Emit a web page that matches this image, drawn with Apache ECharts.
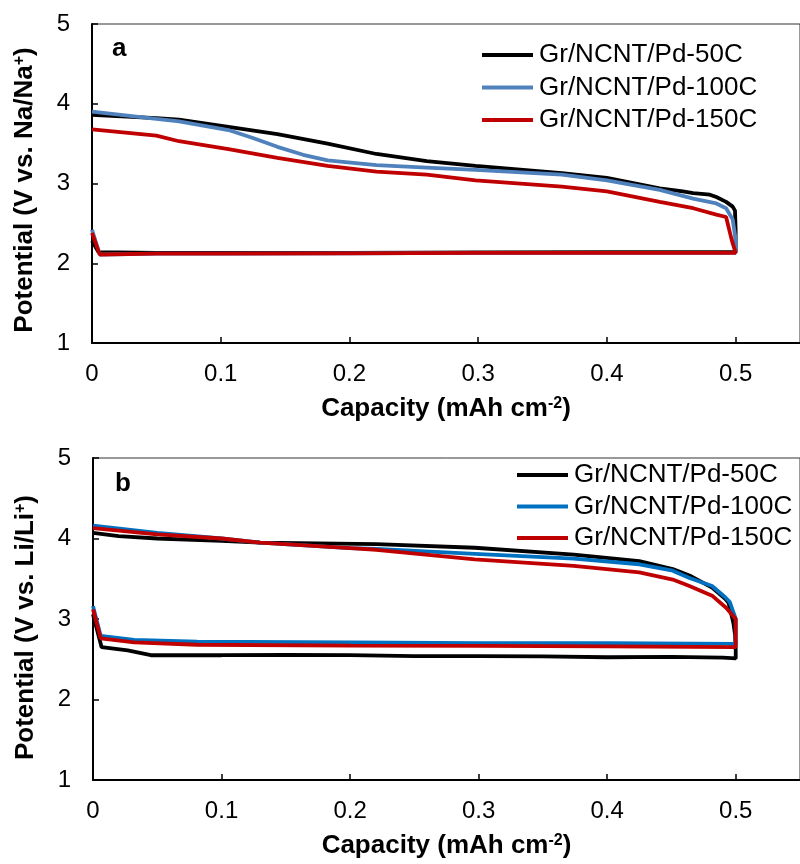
<!DOCTYPE html>
<html>
<head>
<meta charset="utf-8">
<script src="https://cdn.jsdelivr.net/npm/echarts@6/dist/echarts.min.js"></script>
<style>
html,body{margin:0;padding:0;background:#fff;}
#a,#b{width:800px;height:432px;}
</style>
</head>
<body>
<div id="a"></div>
<div id="b"></div>
<script>
// ---------- DATA ----------
const seriesNames = ['Gr/NCNT/Pd-50C', 'Gr/NCNT/Pd-100C', 'Gr/NCNT/Pd-150C'];
const xTicks = [0, 0.1, 0.2, 0.3, 0.4, 0.5];
const yTicks = [1, 2, 3, 4, 5];

// Panel a (Na) : [capacity, potential] — discharge then charge (back to 0)
const na50 = [[0,2.28],[0.005,2.14],[0.05,2.13],[0.1,2.13],[0.2,2.13],[0.3,2.135],[0.4,2.14],[0.5,2.14],
  [0.5,2.40],[0.4995,2.66],[0.4977,2.71],[0.4926,2.77],[0.485,2.83],[0.48,2.86],[0.467,2.88],[0.459,2.90],[0.441,2.94],
  [0.40,3.07],[0.365,3.13],[0.298,3.22],[0.26,3.28],[0.221,3.37],[0.183,3.50],[0.144,3.62],
  [0.106,3.71],[0.0676,3.80],[0.05,3.82],[0,3.86]];
const na100 = [[0,2.42],[0.006,2.11],[0.05,2.12],[0.1,2.12],[0.2,2.125],[0.3,2.13],[0.4,2.13],[0.5,2.13],
  [0.5,2.30],[0.4977,2.55],[0.4926,2.69],[0.485,2.75],[0.467,2.81],[0.441,2.92],[0.40,3.04],[0.365,3.11],
  [0.298,3.17],[0.26,3.20],[0.221,3.23],[0.183,3.29],[0.164,3.36],[0.144,3.46],[0.125,3.57],
  [0.106,3.67],[0.0676,3.78],[0.05,3.81],[0,3.90]];
const na150 = [[0,2.38],[0.006,2.11],[0.05,2.12],[0.1,2.12],[0.2,2.125],[0.3,2.13],[0.4,2.13],[0.5,2.13],
  [0.5,2.14],[0.497,2.29],[0.4926,2.58],[0.485,2.61],[0.467,2.69],[0.441,2.77],[0.40,2.90],[0.365,2.96],
  [0.298,3.04],[0.26,3.11],[0.221,3.15],[0.183,3.22],[0.144,3.32],[0.106,3.43],[0.0676,3.53],[0.05,3.60],[0,3.68]];

// Panel b (Li)
const li50 = [[0,3.06],[0.0067,2.65],[0.027,2.61],[0.045,2.55],[0.1,2.55],[0.15,2.555],[0.2,2.55],[0.25,2.54],
  [0.3,2.54],[0.35,2.535],[0.4,2.525],[0.45,2.53],[0.49,2.52],[0.5,2.51],
  [0.5,2.60],[0.4995,2.80],[0.4982,2.95],[0.4944,3.20],[0.4918,3.25],[0.4816,3.39],[0.464,3.54],[0.451,3.62],
  [0.425,3.72],[0.374,3.80],[0.297,3.885],[0.2204,3.93],[0.13,3.95],[0.1,3.97],[0.05,4.00],[0.02,4.03],[0,4.07]];
const li100 = [[0,3.16],[0.006,2.79],[0.032,2.74],[0.081,2.72],[0.2,2.71],[0.3,2.70],[0.4,2.70],[0.5,2.69],
  [0.5,3.00],[0.4954,3.21],[0.4918,3.27],[0.4816,3.41],[0.464,3.51],[0.451,3.60],[0.425,3.68],[0.374,3.75],
  [0.297,3.81],[0.2204,3.87],[0.2,3.88],[0.13,3.95],[0.1,4.00],[0.05,4.07],[0,4.16]];
const li150 = [[0,3.12],[0.006,2.76],[0.032,2.71],[0.081,2.68],[0.2,2.67],[0.3,2.665],[0.4,2.66],[0.5,2.65],
  [0.5,3.00],[0.4925,3.14],[0.4816,3.29],[0.464,3.41],[0.451,3.49],[0.425,3.58],[0.374,3.66],[0.297,3.74],
  [0.2204,3.86],[0.2,3.88],[0.13,3.95],[0.1,4.00],[0.05,4.05],[0,4.13]];

// ---------- STYLE ----------
const FONT = "'Liberation Sans', Arial, sans-serif";
const colorsA = ['#000000', '#4F81BD', '#C00000'];
const colorsB = ['#000000', '#0070C0', '#C00000'];

function build(opts) {
  const lineSeries = opts.data.map((d, i) => ({
    name: seriesNames[i],
    type: 'line',
    data: d,
    symbol: 'none',
    smooth: false,
    lineStyle: { color: opts.colors[i], width: 3.8 },
    itemStyle: { color: opts.colors[i] },
    z: 2 + i
  }));
  return {
    animation: false,
    backgroundColor: '#fff',
    textStyle: { fontFamily: FONT },
    grid: {
      left: opts.gridLeft, top: opts.gridTop, width: 716, bottom: opts.gridBottom,
      show: true, borderColor: '#333', borderWidth: 1, backgroundColor: 'transparent'
    },
    legend: {
      data: seriesNames.map((n, i) => ({ name: n, icon: 'rect', itemStyle: { color: opts.colors[i] } })),
      orient: 'vertical',
      left: opts.legendLeft,
      top: opts.legendTop,
      padding: 0,
      itemWidth: 51,
      itemHeight: 4,
      itemGap: opts.legendGap,
      selectedMode: false,
      textStyle: { fontFamily: FONT, fontSize: 26, color: '#000', padding: [0, 0, 0, 1] }
    },
    xAxis: {
      type: 'value',
      min: 0, max: 0.55, interval: 0.1,
      name: 'Capacity (mAh cm{sup|-2})',
      nameLocation: 'middle',
      nameGap: opts.xNameGap,
      nameTextStyle: {
        fontFamily: FONT, fontSize: 26, fontWeight: 'bold', color: '#000',
        rich: { sup: { fontFamily: FONT, fontSize: 16, fontWeight: 'bold', color: '#000', verticalAlign: 'top' } }
      },
      axisLine: { show: true, onZero: false, lineStyle: { color: '#000', width: 2 } },
      axisTick: { show: true, inside: true, length: 6, lineStyle: { color: '#000', width: 1.5 } },
      axisLabel: {
        fontFamily: FONT, fontSize: 24, color: '#000', margin: 19, showMaxLabel: false,
        formatter: v => (xTicks.some(t => Math.abs(t - v) < 1e-9) ? (v === 0 ? '0' : v.toFixed(1)) : '')
      },
      splitLine: { show: false }
    },
    yAxis: {
      type: 'value',
      min: 1, max: 5, interval: 1,
      name: opts.yName,
      nameLocation: 'middle',
      nameRotate: 90,
      nameGap: opts.yNameGap,
      nameTextStyle: {
        fontFamily: FONT, fontSize: 26, fontWeight: 'bold', color: '#000',
        padding: opts.yNamePad,
        rich: { sup: { fontFamily: FONT, fontSize: 16, fontWeight: 'bold', color: '#000', verticalAlign: 'top' } }
      },
      axisLine: { show: true, lineStyle: { color: '#000', width: 2 } },
      axisTick: { show: true, inside: true, length: 6, lineStyle: { color: '#000', width: 1.5 } },
      axisLabel: {
        fontFamily: FONT, fontSize: 24, color: '#000', margin: 22,
        formatter: v => (yTicks.includes(v) ? String(v) : '')
      },
      splitLine: { show: false }
    },
    graphic: [{
      type: 'text',
      left: opts.labelX, top: opts.labelY,
      style: { text: opts.label, font: 'bold 26px ' + FONT, fill: '#000' }
    }],
    series: lineSeries
  };
}

const chartA = echarts.init(document.getElementById('a'), null, { renderer: 'canvas' });
chartA.setOption(build({
  data: [na50, na100, na150], colors: colorsA,
  gridLeft: 92, gridTop: 24, gridBottom: 89,
  legendLeft: 482, legendTop: 42, legendGap: 6.5,
  xNameGap: 53, yNameGap: 54, yNamePad: [0, 13, 0, 0],
  yName: 'Potential (V vs. Na/Na{sup|+})',
  label: 'a', labelX: 112, labelY: 36
}));

const chartB = echarts.init(document.getElementById('b'), null, { renderer: 'canvas' });
chartB.setOption(build({
  data: [li50, li100, li150], colors: colorsB,
  gridLeft: 93, gridTop: 26, gridBottom: 82,
  legendLeft: 517, legendTop: 30, legendGap: 5.5,
  xNameGap: 53, yNameGap: 54, yNamePad: [0, 17, 0, 0],
  yName: 'Potential (V vs. Li/Li{sup|+})',
  label: 'b', labelX: 115, labelY: 39
}));
</script>
</body>
</html>
